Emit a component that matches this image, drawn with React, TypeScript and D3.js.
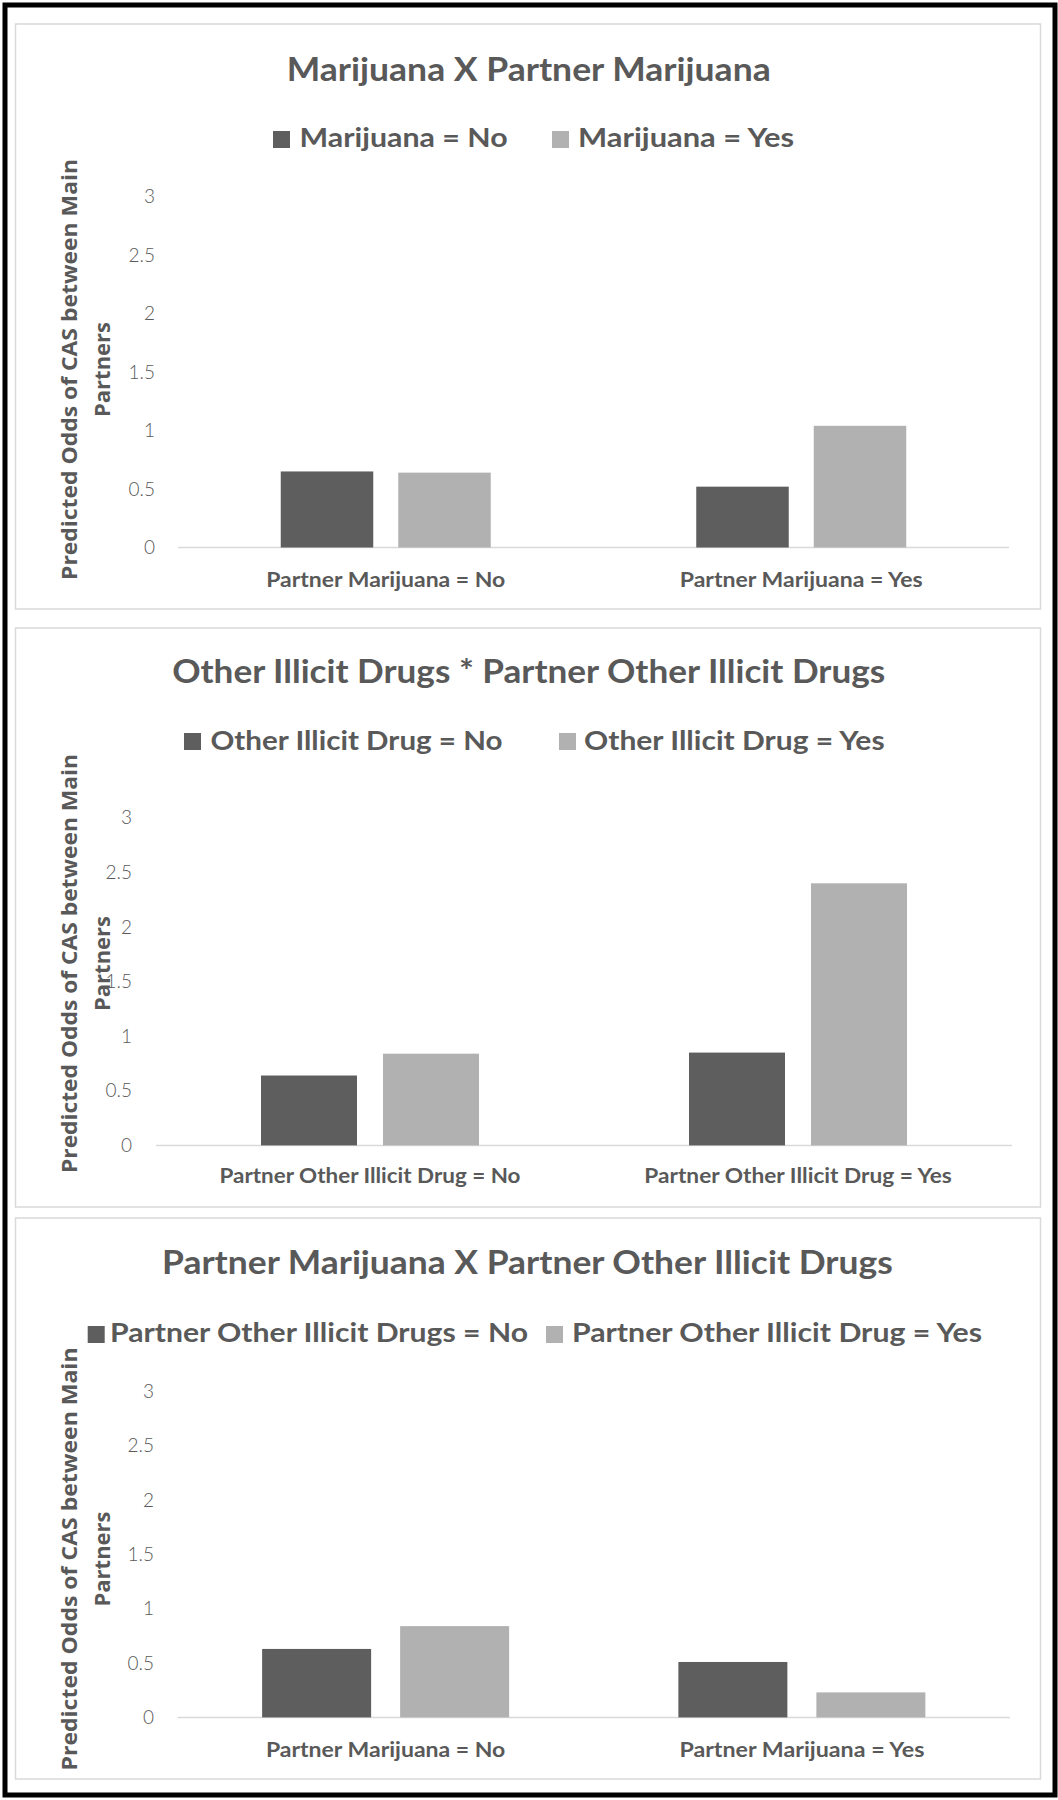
import React from "react";
import * as d3 from "d3";

// ---------- DATA ----------
const yTickValues = [0, 0.5, 1, 1.5, 2, 2.5, 3];
const yAxisTitleLine1 = "Predicted Odds of CAS between Main";
const yAxisTitleLine2 = "Partners";

const title1 = "Marijuana X Partner Marijuana";
const categories1 = ["Partner Marijuana = No", "Partner Marijuana = Yes"];
const seriesNames1 = ["Marijuana = No", "Marijuana = Yes"];
const seriesNo1 = [0.65, 0.52];
const seriesYes1 = [0.64, 1.04];

const title2 = "Other Illicit Drugs * Partner Other Illicit Drugs";
const categories2 = ["Partner Other Illicit Drug = No", "Partner Other Illicit Drug = Yes"];
const seriesNames2 = ["Other Illicit Drug = No", "Other Illicit Drug = Yes"];
const seriesNo2 = [0.64, 0.85];
const seriesYes2 = [0.84, 2.4];

const title3 = "Partner Marijuana X Partner Other Illicit Drugs";
const categories3 = ["Partner Marijuana = No", "Partner Marijuana = Yes"];
const seriesNames3 = ["Partner Other Illicit Drugs = No", "Partner Other Illicit Drug = Yes"];
const seriesNo3 = [0.63, 0.51];
const seriesYes3 = [0.84, 0.23];

// ---------- STYLE / LAYOUT ----------
const seriesColors = ["#5e5e5e", "#b1b1b1"];
const textColor = "#595959";
const font = "Lato, 'Open Sans', sans-serif";

type Layout = {
  top: number; bottom: number;
  plotLeft: number; plotRight: number; yZero: number; yMax: number;
  tickRight: number; barW: number; barGap: number;
  titleX: number; titleY: number; titleW: number;
  legendY: number; swatchTop: number; swatchX: number[]; legendTextX: number[]; legendW: number[];
  catY: number; catW: number[];
  yTitleCy: number; yTitleW: number;
};

const layouts: Layout[] = [
  {
    top: 24, bottom: 609, plotLeft: 178, plotRight: 1009, yZero: 547.5, yMax: 196.5,
    tickRight: 155, barW: 92.5, barGap: 25,
    titleX: 528.7, titleY: 81, titleW: 484,
    legendY: 147, swatchTop: 131, swatchX: [273, 552], legendTextX: [299.6, 578], legendW: [208, 216],
    catY: 587, catW: [239, 243],
    yTitleCy: 369.5, yTitleW: 421,
  },
  {
    top: 628, bottom: 1207, plotLeft: 156, plotRight: 1012, yZero: 1145.4, yMax: 817.8,
    tickRight: 132, barW: 96, barGap: 26,
    titleX: 528.7, titleY: 683, titleW: 713,
    legendY: 750, swatchTop: 733, swatchX: [184, 559], legendTextX: [210.5, 584], legendW: [292, 300.6],
    catY: 1183, catW: [301, 307.4],
    yTitleCy: 963.5, yTitleW: 419,
  },
  {
    top: 1218, bottom: 1779, plotLeft: 177.5, plotRight: 1010, yZero: 1717.4, yMax: 1391.4,
    tickRight: 154, barW: 109, barGap: 29,
    titleX: 527.4, titleY: 1273.5, titleW: 730.7,
    legendY: 1342, swatchTop: 1326, swatchX: [87.7, 546], legendTextX: [110, 572], legendW: [418, 410],
    catY: 1757, catW: [239.4, 245],
    yTitleCy: 1559, yTitleW: 423,
  },
];

type PanelData = {
  title: string; categories: string[]; seriesNames: string[]; no: number[]; yes: number[];
};

const panels: PanelData[] = [
  { title: title1, categories: categories1, seriesNames: seriesNames1, no: seriesNo1, yes: seriesYes1 },
  { title: title2, categories: categories2, seriesNames: seriesNames2, no: seriesNo2, yes: seriesYes2 },
  { title: title3, categories: categories3, seriesNames: seriesNames3, no: seriesNo3, yes: seriesYes3 },
];

function Panel({ data, L }: { data: PanelData; L: Layout }) {
  const plotW = L.plotRight - L.plotLeft;
  const step = plotW / data.categories.length;
  const groupW = 2 * L.barW + L.barGap;
  const pInner = 1 - groupW / step;
  const x0 = d3.scaleBand<string>()
    .domain(data.categories)
    .range([L.plotLeft, L.plotRight])
    .paddingInner(pInner)
    .paddingOuter(pInner / 2);
  const innerStep = L.barW + L.barGap;
  const x1 = d3.scaleBand<string>()
    .domain(data.seriesNames)
    .range([0, groupW])
    .paddingInner(L.barGap / innerStep)
    .paddingOuter(0);
  const y = d3.scaleLinear().domain([0, 3]).range([L.yZero, L.yMax]);
  const seriesValues = [data.no, data.yes];

  return (
    <g>
      <rect x={15.5} y={L.top} width={1025} height={L.bottom - L.top} fill="#fff" stroke="#d9d9d9" strokeWidth={1.5} />
      <text x={L.titleX} y={L.titleY} textAnchor="middle" fontFamily={font} fontWeight={700} fontSize={32}
        fill={textColor} textLength={L.titleW} lengthAdjust="spacingAndGlyphs">{data.title}</text>
      {data.seriesNames.map((s, i) => (
        <g key={s}>
          <rect x={L.swatchX[i]} y={L.swatchTop} width={17} height={17} fill={seriesColors[i]} />
          <text x={L.legendTextX[i]} y={L.legendY} fontFamily={font} fontWeight={700} fontSize={27}
            fill={textColor} textLength={L.legendW[i]} lengthAdjust="spacingAndGlyphs">{s}</text>
        </g>
      ))}
      {yTickValues.map((t) => (
        <text key={t} x={L.tickRight} y={y(t)} dy="0.35em" textAnchor="end" fontFamily={font}
          fontWeight={300} fontSize={19} fill={textColor}>{String(t)}</text>
      ))}
      <line x1={L.plotLeft} x2={L.plotRight} y1={y(0)} y2={y(0)} stroke="#d9d9d9" strokeWidth={1.5} />
      {data.categories.map((c, ci) => (
        <g key={c}>
          {data.seriesNames.map((s, si) => {
            const v = seriesValues[si][ci];
            const bx = (x0(c) ?? 0) + (x1(s) ?? 0);
            return (
              <rect key={s} x={bx} y={y(v)} width={x1.bandwidth()} height={y(0) - y(v)} fill={seriesColors[si]} />
            );
          })}
          <text x={(x0(c) ?? 0) + x0.bandwidth() / 2} y={L.catY} textAnchor="middle" fontFamily={font}
            fontWeight={700} fontSize={21} fill={textColor} textLength={L.catW[ci]} lengthAdjust="spacingAndGlyphs">{c}</text>
        </g>
      ))}
      <g transform={`translate(77,${L.yTitleCy}) rotate(-90)`}>
        <text x={0} y={0} textAnchor="middle" fontFamily="'Open Sans', 'DejaVu Sans', sans-serif" fontWeight={700}
          fontSize={22} fill={textColor} textLength={L.yTitleW} lengthAdjust="spacingAndGlyphs">{yAxisTitleLine1}</text>
      </g>
      <g transform={`translate(110,${L.yTitleCy}) rotate(-90)`}>
        <text x={0} y={0} textAnchor="middle" fontFamily="'Open Sans', 'DejaVu Sans', sans-serif" fontWeight={700}
          fontSize={22} fill={textColor}>{yAxisTitleLine2}</text>
      </g>
    </g>
  );
}

export default function App() {
  return (
    <svg width={1058} height={1800} style={{ position: "absolute", left: 0, top: 0, background: "#fff" }}>
      <rect x={0} y={0} width={1058} height={1800} fill="#fff" />
      {panels.map((p, i) => (
        <Panel key={p.title} data={p} L={layouts[i]} />
      ))}
      <rect x={5} y={5} width={1050} height={1790} fill="none" stroke="#000" strokeWidth={5} />
    </svg>
  );
}
